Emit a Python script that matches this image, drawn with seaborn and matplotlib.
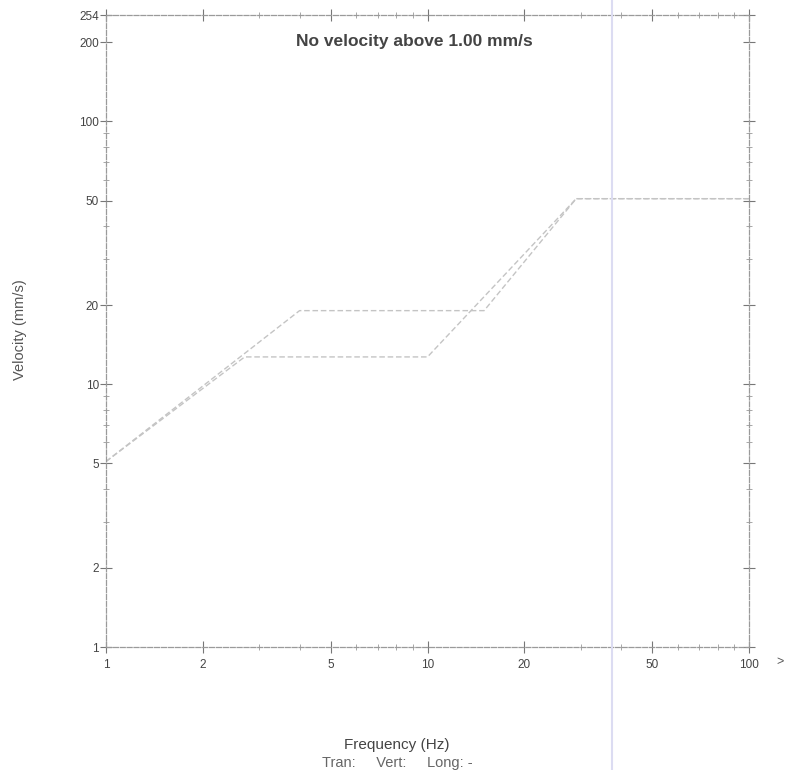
import matplotlib
matplotlib.use("Agg")
import matplotlib.pyplot as plt
import matplotlib.ticker as mticker
from matplotlib.lines import Line2D
import seaborn as sns
import pandas as pd

# Data
lower_freq = [1, 2.7, 10, 29, 100]
lower_vel = [5.08, 12.7, 12.7, 50.8, 50.8]
upper_freq = [1, 4, 15, 29, 100]
upper_vel = [5.08, 19.05, 19.05, 50.8, 50.8]
x_ticks = [1, 2, 5, 10, 20, 50, 100]
x_tick_labels = ["1", "2", "5", "10", "20", "50", "100"]
y_ticks = [1, 2, 5, 10, 20, 50, 100, 200, 254]
y_tick_labels = ["1", "2", "5", "10", "20", "50", "100", "200", "254"]

sns.set_style("white")
plt.rcParams["font.family"] = ["Liberation Sans", "DejaVu Sans"]

fig = plt.figure(figsize=(7.93, 7.70), dpi=100)
ax = fig.add_axes([106 / 793, 1 - 647 / 770, (749 - 106) / 793, (647 - 15) / 770])

df_low = pd.DataFrame({"Frequency": lower_freq, "Velocity": lower_vel})
df_up = pd.DataFrame({"Frequency": upper_freq, "Velocity": upper_vel})
line_kw = dict(color="#c4c4c4", linewidth=1.0, linestyle=(0, (4, 2)), sort=False, estimator=None)
sns.lineplot(data=df_low, x="Frequency", y="Velocity", ax=ax, **line_kw)
sns.lineplot(data=df_up, x="Frequency", y="Velocity", ax=ax, **line_kw)

ax.set_xscale("log")
ax.set_yscale("log")
ax.set_xlim(1, 100)
ax.set_ylim(1, 254)

ax.xaxis.set_major_locator(mticker.FixedLocator(x_ticks))
ax.xaxis.set_major_formatter(mticker.FixedFormatter(x_tick_labels))
ax.yaxis.set_major_locator(mticker.FixedLocator(y_ticks))
ax.yaxis.set_major_formatter(mticker.FixedFormatter(y_tick_labels))
ax.xaxis.set_minor_locator(mticker.LogLocator(base=10, subs=[3, 4, 6, 7, 8, 9]))
ax.yaxis.set_minor_locator(mticker.LogLocator(base=10, subs=[3, 4, 6, 7, 8, 9]))
ax.xaxis.set_minor_formatter(mticker.NullFormatter())
ax.yaxis.set_minor_formatter(mticker.NullFormatter())

ax.tick_params(which="major", direction="inout", length=8, width=0.8, color="#777777",
               labelsize=8.5, labelcolor="#444444", top=True, right=True, bottom=True, left=True,
               labeltop=False, labelright=False, labelbottom=True, labelleft=True)
ax.tick_params(which="minor", direction="inout", length=4, width=0.6, color="#999999",
               top=True, right=True, bottom=True, left=True)
ax.tick_params(axis="x", which="major", pad=5)
ax.tick_params(axis="y", which="major", pad=1)

for s in ax.spines.values():
    s.set_color("#9a9a9a")
    s.set_linewidth(0.9)
    s.set_linestyle((0, (4, 1.5)))

ax.set_xlabel("")
ax.set_ylabel("")

fig.text(20 / 793, 1 - 330 / 770, "Velocity (mm/s)", rotation=90, ha="center", va="center",
         fontsize=10.5, color="#555555")
fig.text(397 / 793, 1 - 745 / 770, "Frequency (Hz)", ha="center", va="center",
         fontsize=11, color="#444444")
fig.text(397 / 793, 1 - 763 / 770, "Tran:     Vert:     Long: -", ha="center", va="center",
         fontsize=10.5, color="#666666")
fig.text(776 / 793, 1 - 662 / 770, ">", ha="left", va="center", fontsize=9, color="#555555")
ax.text(0.48, 0.958, "No velocity above 1.00 mm/s", transform=ax.transAxes, ha="center",
        va="center", fontsize=12.5, fontweight="bold", color="#444444")

# faint scan streak
fig.add_artist(Line2D([612 / 793, 612 / 793], [0, 1], transform=fig.transFigure,
                      color="#dcdcf2", linewidth=1.5))

fig.savefig("out.png", dpi=100, facecolor="white")
